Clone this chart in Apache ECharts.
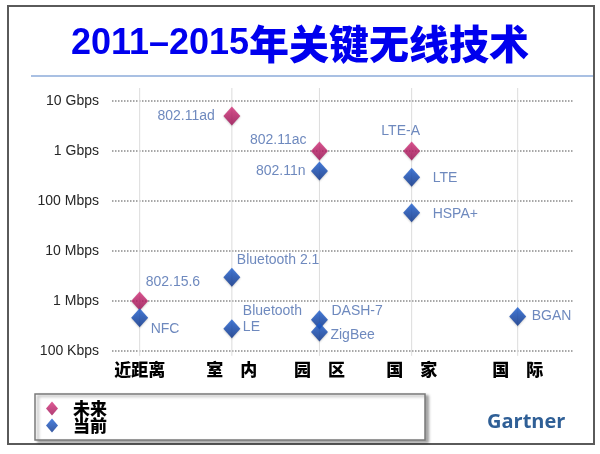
<!DOCTYPE html>
<html><head><meta charset="utf-8">
<script src="https://cdn.jsdelivr.net/npm/echarts@6/dist/echarts.min.js"></script>
<style>html,body{margin:0;padding:0;background:#fff}#c{width:600px;height:454px}</style>
</head><body><div id="c"></div>
<script>
const zones = ['近距离', '室　内', '园　区', '国　家', '国　际'];
const zonePos = [0.6, 2.6, 4.5, 6.5, 8.8];
const yTickLabels = ['100 Kbps', '1 Mbps', '10 Mbps', '100 Mbps', '1 Gbps', '10 Gbps'];

const futureNames = ['802.15.6', '802.11ad', '802.11ac', 'LTE-A'];
const futureZone = [0, 1, 2, 3];
const futureMbps = [1, 5000, 1000, 1000];

const currentNames = ['NFC', 'Bluetooth 2.1', 'Bluetooth\nLE', '802.11n', 'DASH-7', 'ZigBee', 'LTE', 'HSPA+', 'BGAN'];
const currentZone = [0, 1, 1, 2, 2, 2, 3, 3, 4];
const currentMbps = [0.46, 3, 0.28, 400, 0.42, 0.24, 300, 58, 0.49];

const legendNames = ['未来', '当前'];

// label placement (style only)
const labelPlace = {
  '802.15.6': ['left', [6, -19]],
  '802.11ad': ['right', [-17, 0]],
  '802.11ac': ['right', [-13, -11]],
  'LTE-A': ['center', [-11, -20]],
  'NFC': ['left', [11, 11]],
  'Bluetooth 2.1': ['left', [5, -17]],
  'Bluetooth\nLE': ['left', [11, -10]],
  '802.11n': ['right', [-14, 0]],
  'DASH-7': ['left', [12, -9]],
  'ZigBee': ['left', [11, 3]],
  'LTE': ['left', [21, 1]],
  'HSPA+': ['left', [21, 1]],
  'BGAN': ['left', [14, 0]]
};

function makeData(names, zoneIdx, vals) {
  return names.map((n, i) => {
    const p = labelPlace[n];
    return {
      name: n,
      value: [zonePos[zoneIdx[i]], vals[i]],
      label: { show: true, position: 'inside', align: p[0], verticalAlign: 'middle', offset: p[1], formatter: n }
    };
  });
}

const magenta = new echarts.graphic.LinearGradient(0, 0, 0, 1, [
  { offset: 0, color: '#d8337c' }, { offset: 1, color: '#9c0c52' }]);
const blue = new echarts.graphic.LinearGradient(0, 0, 0, 1, [
  { offset: 0, color: '#1f62d6' }, { offset: 1, color: '#08318a' }]);

const labelText = { color: '#4a6cae', fontSize: 14, fontFamily: 'Liberation Sans, Arial, sans-serif', lineHeight: 16 };

const vSeries = zonePos.map((p, i) => ({
  type: 'line', name: 'v' + i, silent: true, clip: false, symbol: 'none', z: 0,
  lineStyle: { color: '#dcdcdc', width: 1 },
  data: [[p, 0.08], [p, 18200]],
  tooltip: { show: false }
}));

const chart = echarts.init(document.getElementById('c'));
chart.setOption({
  backgroundColor: '#fff',
  animation: false,
  title: {
    text: '{d|2011–2015}{c|年关键无线技术}',
    left: 'center', top: 19,
    textStyle: {
      rich: {
        d: { fontSize: 36, fontWeight: 'bold', color: '#0000ee', fontFamily: 'Liberation Sans, Arial, sans-serif' },
        c: { fontSize: 40, fontWeight: 900, color: '#0000ee', fontFamily: 'Noto Sans CJK SC' }
      }
    }
  },
  graphic: [
    { type: 'rect', shape: { x: 8, y: 6, width: 586, height: 438 }, style: { fill: 'none', stroke: '#5a5a5a', lineWidth: 2 }, z: -1, silent: true },
    { type: 'line', shape: { x1: 31, y1: 76, x2: 593, y2: 76 }, style: { stroke: '#a9c0e3', lineWidth: 2 }, silent: true },
    { type: 'rect', shape: { x: 35, y: 394, width: 390, height: 46 }, style: { fill: '#fff', stroke: '#7a7a7a', lineWidth: 1.5, shadowColor: 'rgba(0,0,0,0.35)', shadowBlur: 3, shadowOffsetX: 3, shadowOffsetY: 2 }, z: -1, silent: true },
    { type: 'text', x: 487, y: 422, style: { text: 'Gartner', fill: '#2f5f96', font: 'bold 20px "Open Sans", sans-serif', textVerticalAlign: 'middle' }, silent: true }
  ],
  legend: {
    data: legendNames.map((n) => ({ name: n, icon: 'diamond' })),
    orient: 'vertical', left: 46, top: 400, padding: 0, itemGap: 0, itemWidth: 12, itemHeight: 14,
    textStyle: { fontSize: 17, fontWeight: 900, color: '#000', fontFamily: 'Noto Sans CJK SC', padding: [0, 0, 0, 10], lineHeight: 17 }
  },
  grid: { left: 112, right: 27, top: 101, bottom: 103 },
  xAxis: {
    type: 'value', min: 0, max: 10,
    axisLine: { show: false }, axisTick: { show: false }, splitLine: { show: false },
    axisLabel: {
      customValues: zonePos, margin: 10,
      formatter: (v) => { let k = 0; zonePos.forEach((p, i) => { if (Math.abs(p - v) < Math.abs(zonePos[k] - v)) k = i; }); return zones[k]; },
      fontSize: 17, fontWeight: 900, color: '#000', fontFamily: 'Noto Sans CJK SC'
    }
  },
  yAxis: {
    type: 'log', logBase: 10, min: 0.1, max: 10000,
    axisLine: { show: false }, axisTick: { show: false },
    splitLine: { show: true, lineStyle: { type: 'dotted', color: '#8a8a8a', width: 1.5 } },
    axisLabel: {
      margin: 13, fontSize: 14, color: '#262626', fontFamily: 'Liberation Sans, Arial, sans-serif',
      formatter: (v) => yTickLabels[Math.round(Math.log10(v)) + 1] || ''
    }
  },
  series: vSeries.concat([
    {
      type: 'scatter', name: '未来', symbol: 'diamond', symbolSize: [17, 19], z: 3,
      itemStyle: { color: magenta, shadowColor: 'rgba(0,0,0,0.25)', shadowBlur: 2, shadowOffsetY: 1 },
      label: labelText,
      data: makeData(futureNames, futureZone, futureMbps)
    },
    {
      type: 'scatter', name: '当前', symbol: 'diamond', symbolSize: [17, 19], z: 3,
      itemStyle: { color: blue, shadowColor: 'rgba(0,0,0,0.25)', shadowBlur: 2, shadowOffsetY: 1 },
      label: labelText,
      data: makeData(currentNames, currentZone, currentMbps)
    }
  ])
});
</script></body></html>
